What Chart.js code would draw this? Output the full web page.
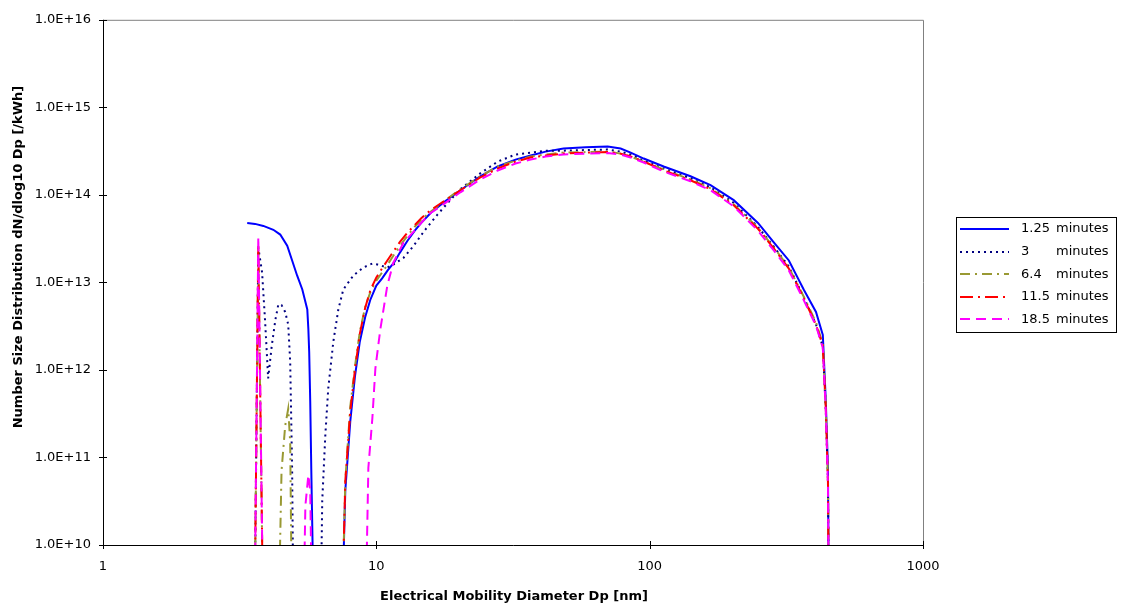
<!DOCTYPE html>
<html>
<head>
<meta charset="utf-8">
<title>Number size distribution</title>
<script src="https://cdn.jsdelivr.net/npm/chart.js@4.4.1/dist/chart.umd.min.js"></script>
<style>
  html, body { margin: 0; padding: 0; background: #fff; }
</style>
</head>
<body>
<canvas id="sizeChart" width="1122" height="608"></canvas>
<script>
// SMPS scans, dN/dlog10 Dp per kWh. 0 means nothing counted in that channel.
const runTimes = ['1.25', '3', '6.4', '11.5', '18.5'];

const dp125 = [3.37, 3.60, 3.86, 4.20, 4.45, 4.72, 4.92, 5.13, 5.36, 5.59, 5.64, 5.68, 5.73, 5.78, 5.92,
  7.46, 7.70, 8.03, 8.35, 8.70, 9.10, 9.50, 10.0, 10.5, 11.0, 11.6, 12.2, 13.0, 13.8, 14.6,
  15.8, 17.9, 20.3, 24.0, 27.8, 32.3, 36.7, 41.6, 48.4, 58.3, 70.2,
  78.3, 85.2, 95.1, 112.5, 141, 167, 203, 249, 285, 323, 366, 406, 430, 441, 449, 453];
const n125 = [4.78e13, 4.66e13, 4.42e13, 3.99e13, 3.52e13, 2.62e13, 1.78e13, 1.20e13, 8.3e12, 4.9e12, 2.94e12, 1.61e12, 4.38e11, 7.6e10, 0,
  0, 4.2e10, 2.6e11, 8.4e11, 2.1e12, 4.0e12, 6.3e12, 9.2e12, 1.11e13, 1.37e13, 1.68e13, 2.19e13, 2.99e13, 3.88e13, 4.78e13,
  6.2e13, 8.5e13, 1.13e14, 1.63e14, 2.11e14, 2.53e14, 2.81e14, 3.12e14, 3.38e14, 3.5e14, 3.56e14,
  3.38e14, 3.04e14, 2.60e14, 2.11e14, 1.63e14, 1.29e14, 8.7e13, 4.78e13, 2.84e13, 1.78e13, 8.3e12, 4.6e12, 2.51e12, 4.38e11, 7.6e10, 0];

const dp3 = [3.58, 3.70, 3.82, 3.92, 4.02, 4.14, 4.27, 4.38, 4.50, 4.64, 4.76, 4.84, 4.92, 4.98,
  6.24, 6.34, 6.51, 6.67, 6.96, 7.26, 7.57, 8.24, 8.96, 9.67,
  10.1, 10.97, 11.54, 12.56, 13.66, 15.0, 16.7, 18.5, 20.3, 24.0,
  27.8, 32.3, 36.7, 41.6, 48.4, 58.3, 70.2, 78.3, 85.2, 95.1,
  112.5, 141, 167, 203, 249, 285, 323, 366, 406, 430, 441, 449, 453];
const n3 = [0, 2.5e13, 1.3e13, 3.5e12, 8.0e11, 1.84e12, 3.7e12, 5.6e12, 5.5e12, 4.6e12, 3.3e12, 1.24e12, 7.1e10, 0,
  0, 3.2e10, 1.85e11, 6.15e11, 2.1e12, 4.9e12, 8.3e12, 1.2e13, 1.48e13, 1.64e13,
  1.6e13, 1.48e13, 1.6e13, 1.9e13, 2.6e13, 3.9e13, 5.9e13, 8.5e13, 1.16e14, 1.76e14,
  2.4e14, 2.89e14, 3.04e14, 3.2e14, 3.2e14, 3.25e14, 3.3e14, 3.12e14, 2.89e14, 2.46e14,
  2.0e14, 1.55e14, 1.22e14, 8.1e13, 4.3e13, 2.55e13, 1.52e13, 6.8e12, 3.3e12, 1.84e12, 3.37e11, 5.4e10, 0];

const dp64 = [3.58, 3.70, 3.86, 4.38, 4.50, 4.64, 4.76, 4.84, 4.92,
  7.46, 7.70, 8.03, 8.35, 8.70, 9.10, 9.50, 10.0, 10.5, 11.0, 11.6, 12.2, 13.0, 13.8, 14.6,
  15.8, 17.9, 20.3, 24.0, 27.8, 32.3, 36.7, 41.6, 48.4, 58.3, 70.2,
  78.3, 85.2, 95.1, 112.5, 141, 167, 203, 249, 285, 323, 366, 406, 430, 441, 449, 453];
const n64 = [0, 2.2e13, 0, 0, 7.1e10, 2.3e11, 3.6e11, 1.5e11, 0,
  0, 5.4e10, 3.85e11, 1.09e12, 2.72e12, 5.2e12, 7.7e12, 1.05e13, 1.3e13, 1.6e13, 2.07e13, 2.62e13, 3.41e13, 4.3e13, 5.2e13,
  6.4e13, 8.7e13, 1.16e14, 1.63e14, 2.11e14, 2.46e14, 2.74e14, 2.89e14, 3.04e14, 3.08e14, 3.12e14,
  2.96e14, 2.74e14, 2.40e14, 1.95e14, 1.5e14, 1.19e14, 7.8e13, 4.2e13, 2.5e13, 1.48e13, 6.9e12, 3.5e12, 1.99e12, 3.85e11, 5.6e10, 0];

const dp115 = [3.58, 3.70, 3.86,
  7.46, 7.70, 8.03, 8.35, 8.70, 9.10, 9.50, 10.0, 10.5, 11.0, 11.6, 12.2, 13.0, 13.8, 14.6,
  15.8, 17.9, 20.3, 24.0, 27.8, 32.3, 36.7, 41.6, 48.4, 58.3, 70.2,
  78.3, 85.2, 95.1, 112.5, 141, 167, 203, 249, 285, 323, 366, 406, 430, 441, 449, 453];
const n115 = [0, 2.6e13, 0,
  0, 5.4e10, 3.37e11, 1.0e12, 2.58e12, 5.1e12, 8.1e12, 1.14e13, 1.45e13, 1.8e13, 2.3e13, 2.9e13, 3.7e13, 4.5e13, 5.4e13,
  6.7e13, 8.7e13, 1.13e14, 1.58e14, 2.0e14, 2.4e14, 2.67e14, 2.81e14, 2.96e14, 3.04e14, 3.08e14,
  2.96e14, 2.74e14, 2.4e14, 1.9e14, 1.47e14, 1.16e14, 7.6e13, 4.1e13, 2.43e13, 1.44e13, 6.6e12, 3.3e12, 1.88e12, 3.6e11, 5.2e10, 0];

const dp185 = [3.58, 3.70, 3.86, 5.40, 5.50, 5.64, 5.73, 5.83,
  9.11, 9.35, 9.67, 9.92, 10.34, 10.97, 11.54, 12.56, 13.8, 14.6,
  15.8, 17.9, 20.3, 24.0, 27.8, 32.3, 36.7, 41.6, 48.4, 58.3, 70.2,
  78.3, 85.2, 95.1, 112.5, 141, 167, 203, 249, 285, 323, 366, 406, 430, 441, 449, 453];
const n185 = [0, 3.3e13, 0, 0, 2.8e10, 6.3e10, 4.2e10, 0,
  0, 7.6e10, 2.8e11, 1.04e12, 2.9e12, 9.2e12, 1.68e13, 2.84e13, 3.9e13, 4.8e13,
  6.2e13, 8.1e13, 1.07e14, 1.5e14, 1.9e14, 2.28e14, 2.53e14, 2.74e14, 2.89e14, 2.96e14, 3.0e14,
  2.89e14, 2.67e14, 2.34e14, 1.85e14, 1.43e14, 1.13e14, 7.4e13, 3.9e13, 2.3e13, 1.37e13, 6.3e12, 3.2e12, 1.79e12, 3.37e11, 4.9e10, 0];

const xTicks = [1, 10, 100, 1000];
const xTickLabels = ['1', '10', '100', '1000'];
const yTicks = [1e10, 1e11, 1e12, 1e13, 1e14, 1e15, 1e16];
const yTickLabels = ['1.0E+10', '1.0E+11', '1.0E+12', '1.0E+13', '1.0E+14', '1.0E+15', '1.0E+16'];

const Y_MIN = 1e10;
const Y_MAX = 1e16;
// empty channels sit one decade under the axis so the line drops straight out of the plot
const EMPTY_LEVEL = Y_MIN / 10;

function toPoints(dp, n) {
  return dp.map((d, i) => ({ x: d, y: n[i] > 0 ? n[i] : EMPTY_LEVEL }));
}

const styles = [
  { color: '#0000ff', dash: [] },
  { color: '#000080', dash: [2, 4] },
  { color: '#999933', dash: [10, 5, 2, 5] },
  { color: '#ff0000', dash: [13, 5, 2, 5] },
  { color: '#ff00ff', dash: [10, 6] }
];
const series = [[dp125, n125], [dp3, n3], [dp64, n64], [dp115, n115], [dp185, n185]];

const datasets = series.map(([dp, n], i) => ({
  label: runTimes[i] + ' minutes',
  data: toPoints(dp, n),
  borderColor: styles[i].color,
  borderDash: styles[i].dash,
  borderWidth: 2,
  pointRadius: 0,
  tension: 0,
  fill: false,
  clip: 0,
  order: series.length - i   // later runs drawn on top
}));

const framePlugin = {
  id: 'frame',
  afterDatasetsDraw(chart) {
    const { ctx, chartArea: a, scales: { x, y } } = chart;
    ctx.save();
    ctx.lineWidth = 1;
    ctx.strokeStyle = '#808080';
    ctx.beginPath();
    ctx.moveTo(a.left, a.top + 0.5);
    ctx.lineTo(a.right + 0.5, a.top + 0.5);
    ctx.lineTo(a.right + 0.5, a.bottom);
    ctx.stroke();

    ctx.strokeStyle = '#000';
    ctx.beginPath();
    ctx.moveTo(a.left + 0.5, a.top);
    ctx.lineTo(a.left + 0.5, a.bottom + 0.5);
    ctx.lineTo(a.right + 1, a.bottom + 0.5);
    yTicks.forEach(v => {
      const py = Math.round(y.getPixelForValue(v)) + 0.5;
      ctx.moveTo(a.left - 4, py);
      ctx.lineTo(a.left + 4, py);
    });
    xTicks.forEach(v => {
      const px = Math.round(x.getPixelForValue(v)) + 0.5;
      ctx.moveTo(px, a.bottom - 4);
      ctx.lineTo(px, a.bottom + 4);
    });
    ctx.stroke();

    // axis titles
    ctx.fillStyle = '#000';
    ctx.font = 'bold 13px "DejaVu Sans"';
    ctx.textAlign = 'center';
    ctx.textBaseline = 'middle';
    ctx.fillText('Electrical Mobility Diameter Dp [nm]', 514, 597);
    ctx.translate(19, 257);
    ctx.rotate(-Math.PI / 2);
    ctx.fillText('Number Size Distribution dN/dlog10 Dp [/kWh]', 0, 0);
    ctx.restore();
  }
};

const legendPlugin = {
  id: 'runLegend',
  afterDraw(chart) {
    const { ctx } = chart;
    const boxX = 956, boxY = 217, boxW = 160, boxH = 115;
    ctx.save();
    ctx.lineWidth = 1;
    ctx.strokeStyle = '#000';
    ctx.strokeRect(boxX + 0.5, boxY + 0.5, boxW, boxH);
    ctx.font = '13px "DejaVu Sans"';
    ctx.fillStyle = '#000';
    ctx.textBaseline = 'middle';
    chart.data.datasets.forEach((ds, i) => {
      const rowY = 229 + i * 22.6;
      ctx.strokeStyle = ds.borderColor;
      ctx.lineWidth = 2;
      ctx.setLineDash(ds.borderDash);
      ctx.beginPath();
      ctx.moveTo(960, Math.round(rowY));
      ctx.lineTo(1009, Math.round(rowY));
      ctx.stroke();
      ctx.setLineDash([]);
      ctx.fillText(runTimes[i], 1021, rowY);
      ctx.fillText('minutes', 1056, rowY);
    });
    ctx.restore();
  }
};

Chart.defaults.font.family = '"DejaVu Sans"';
Chart.defaults.font.size = 13;
Chart.defaults.color = '#000';

new Chart(document.getElementById('sizeChart'), {
  type: 'line',
  data: { datasets: datasets },
  options: {
    responsive: false,
    animation: false,
    events: [],
    layout: { padding: { top: 15, right: 199, bottom: 0, left: 0 } },
    plugins: {
      legend: { display: false },
      tooltip: { enabled: false }
    },
    scales: {
      x: {
        type: 'logarithmic',
        min: 1,
        max: 1000,
        afterBuildTicks: scale => { scale.ticks = xTicks.map(v => ({ value: v })); },
        afterFit: scale => { scale.height = 63; },
        ticks: {
          autoSkip: false,
          maxRotation: 0,
          padding: 14,
          color: '#000',
          callback: (v, i) => xTickLabels[i]
        },
        grid: { display: false, drawTicks: false },
        border: { display: false }
      },
      y: {
        type: 'logarithmic',
        min: Y_MIN,
        max: Y_MAX,
        afterBuildTicks: scale => { scale.ticks = yTicks.map(v => ({ value: v })); },
        afterFit: scale => { scale.width = 103; },
        ticks: {
          autoSkip: false,
          padding: 12,
          color: '#000',
          callback: (v, i) => yTickLabels[i]
        },
        grid: { display: false, drawTicks: false },
        border: { display: false }
      }
    }
  },
  plugins: [framePlugin, legendPlugin]
});
</script>
</body>
</html>
